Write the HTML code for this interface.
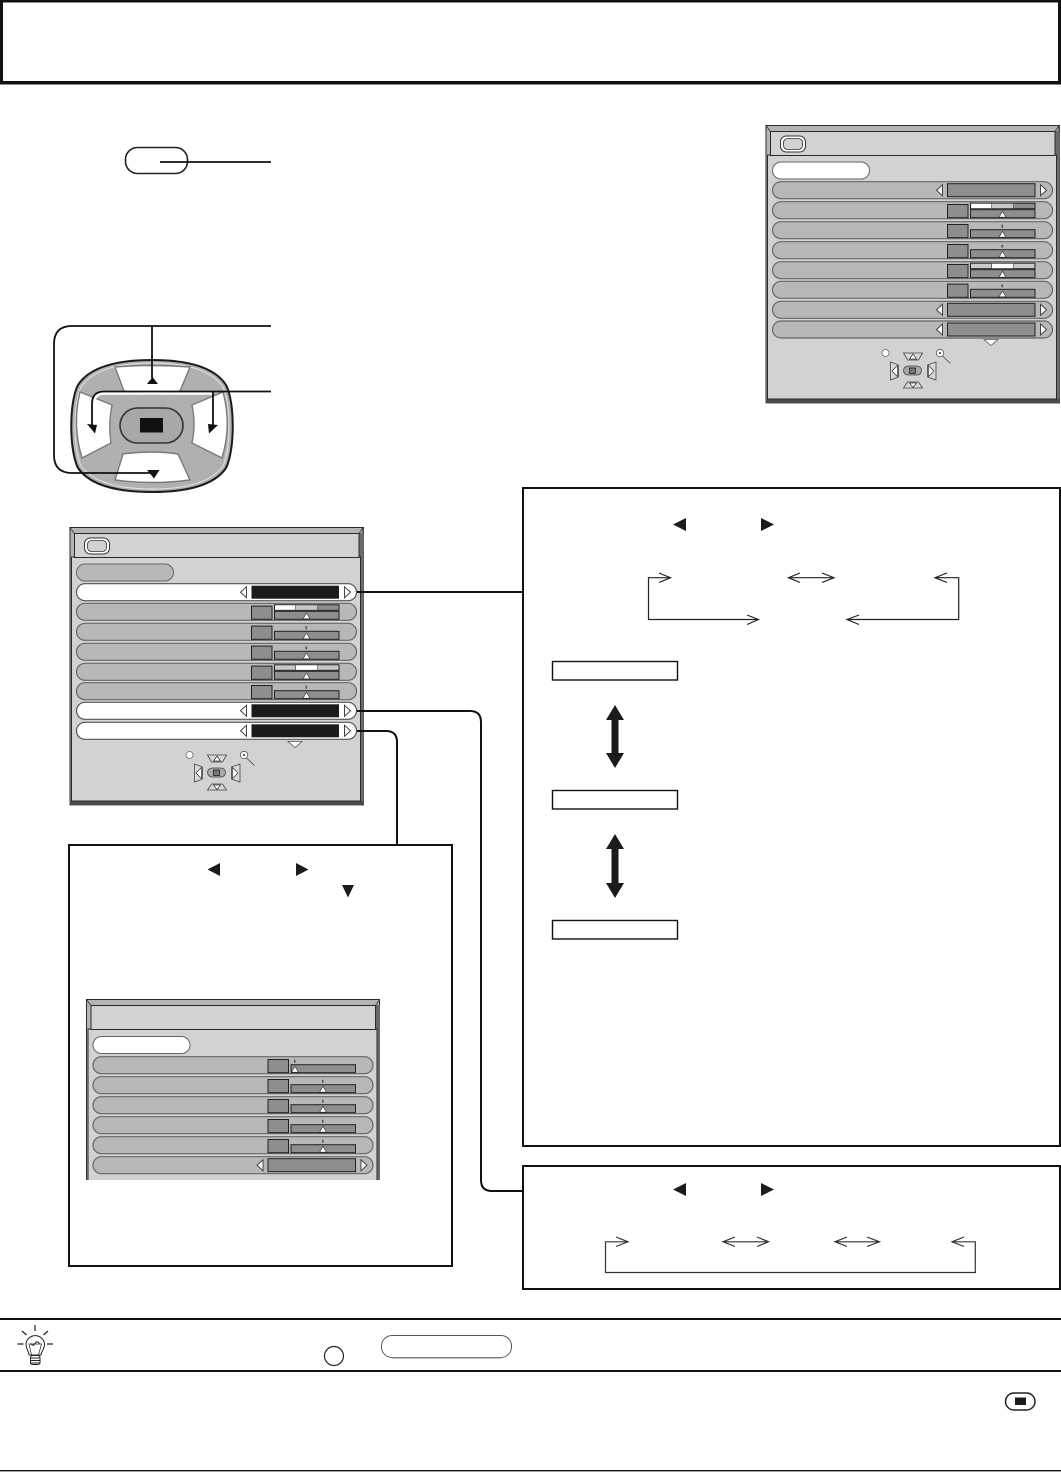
<!DOCTYPE html>
<html>
<head>
<meta charset="utf-8">
<style>
html,body{margin:0;padding:0;background:#fff;}
svg{display:block;}
</style>
</head>
<body>
<svg xmlns="http://www.w3.org/2000/svg" width="1061" height="1472" viewBox="0 0 1061 1472">
<defs>
  <g id="larr"><path d="M-3 0L3 -5.5V5.5Z" fill="#fff" stroke="#444" stroke-width="1"/></g>
  <g id="rarr"><path d="M3 0L-3 -5.5V5.5Z" fill="#fff" stroke="#444" stroke-width="1"/></g>
  <g id="rowbase"><rect x="7" y="0" width="280" height="17" rx="8.5" fill="#b8b8b8" stroke="#666" stroke-width="1.2"/></g>
  <g id="rowA">
    <use href="#rowbase"/>
    <rect x="182" y="2" width="87.5" height="13" fill="#8e8e8e" stroke="#222" stroke-width="1"/>
    <use href="#larr" x="174" y="8.5"/><use href="#rarr" x="278" y="8.5"/>
  </g>
  <g id="rowW">
    <rect x="7" y="0" width="280" height="17" rx="8.5" fill="#fff" stroke="#555" stroke-width="1.2"/>
    <rect x="182" y="2" width="87.5" height="13" fill="#1c1a1b"/>
    <use href="#larr" x="174" y="8.5"/><use href="#rarr" x="278" y="8.5"/>
  </g>
  <g id="tri"><path d="M0 -4.5L3.4 1.5H-3.4Z" fill="#fff" stroke="#333" stroke-width=".6"/></g>
  <g id="rowS">
    <use href="#rowbase"/>
    <rect x="182" y="2.8" width="20.5" height="13.2" fill="#8e8e8e" stroke="#222" stroke-width="1"/>
    <rect x="205" y="8" width="64.5" height="8" fill="#8e8e8e" stroke="#222" stroke-width="1"/>
    <use href="#tri" x="237" y="14"/>
    <rect x="236" y="3" width="1.6" height="3" fill="#555"/>
  </g>
  <g id="rowS0">
    <use href="#rowbase"/>
    <rect x="182" y="2.8" width="20.5" height="13.2" fill="#8e8e8e" stroke="#222" stroke-width="1"/>
    <rect x="205" y="8" width="64.5" height="8" fill="#8e8e8e" stroke="#222" stroke-width="1"/>
    <use href="#tri" x="209" y="14"/>
    <rect x="208" y="3" width="1.6" height="3" fill="#555"/>
  </g>
  <g id="rowT1">
    <use href="#rowbase"/>
    <rect x="182" y="2.8" width="20.5" height="13.2" fill="#8e8e8e" stroke="#222" stroke-width="1"/>
    <rect x="205" y="1.5" width="64.5" height="5.5" fill="#8e8e8e" stroke="#222" stroke-width="1"/>
    <rect x="205.5" y="2" width="20.5" height="4.5" fill="#fff"/>
    <rect x="226.5" y="2" width="21.5" height="4.500" fill="#c8c8c8"/>
    <path d="M226.200 2V6.500M248.200 2V6.500" stroke="#333" stroke-width=".6"/>
    <rect x="205" y="8" width="64.5" height="8" fill="#8e8e8e" stroke="#222" stroke-width="1"/>
    <use href="#tri" x="237" y="14"/>
  </g>
  <g id="rowT2">
    <use href="#rowbase"/>
    <rect x="182" y="2.8" width="20.5" height="13.2" fill="#8e8e8e" stroke="#222" stroke-width="1"/>
    <rect x="205" y="1.5" width="64.5" height="5.5" fill="#c8c8c8" stroke="#222" stroke-width="1"/>
    <rect x="226.5" y="2" width="21.5" height="4.500" fill="#fff"/>
    <path d="M226.200 2V6.500M248.200 2V6.500" stroke="#333" stroke-width=".6"/>
    <rect x="205" y="8" width="64.5" height="8" fill="#8e8e8e" stroke="#222" stroke-width="1"/>
    <use href="#tri" x="237" y="14"/>
  </g>
  <g id="base">
    <rect x="0" y="0" width="294" height="278" fill="#b4b4b4"/>
    <path d="M294 0V278H0" fill="none" stroke="#555" stroke-width="1"/>
    <rect x=".5" y=".5" width="293" height="277" fill="none" stroke="#2a2a2a" stroke-width="1"/>
    <rect x="0" y="274" width="294" height="4" fill="#4a4a4a"/>
    <rect x="290" y="6" width="4" height="268" fill="#6a6a6a"/>
    <rect x="2" y="30" width="289" height="244" fill="#d2d2d2" stroke="#2a2a2a" stroke-width="1"/>
    <rect x="5" y="6.5" width="284.5" height="24" fill="#d2d2d2" stroke="#2a2a2a" stroke-width="1"/>
    <path d="M0 0L5 6.5M294 0L289.5 6.5" stroke="#333" stroke-width=".8"/>
  </g>
  <g id="tvicon">
    <rect x="15" y="11" width="25" height="16" rx="6" fill="#fff" stroke="#333" stroke-width="1"/>
    <rect x="18" y="13.5" width="19" height="11" rx="4" fill="#d2d2d2" stroke="#333" stroke-width=".8"/>
  </g>
  <g id="nav">
    <circle cx="120" cy="228" r="3.500" fill="#fff" stroke="#666" stroke-width=".8"/>
    <path d="M138 228H157L153 235H142Z" fill="#d8d8d8" stroke="#444" stroke-width=".8"/>
    <path d="M147.500 229L151 234H144Z" fill="#fff" stroke="#333" stroke-width=".7"/>
    <path d="M138 263H157L153 257H142Z" fill="#d8d8d8" stroke="#444" stroke-width=".8"/>
    <path d="M147.500 262.500L151 258H144Z" fill="#fff" stroke="#333" stroke-width=".7"/>
    <path d="M125 237L133 240V252L125 255Z" fill="#d8d8d8" stroke="#444" stroke-width=".8"/>
    <path d="M126.500 246L132 240.500V251.500Z" fill="#fff" stroke="#333" stroke-width=".7"/>
    <path d="M170.500 237L162 240V252L170.500 255Z" fill="#d8d8d8" stroke="#444" stroke-width=".8"/>
    <path d="M168.500 246L163 240.500V251.500Z" fill="#fff" stroke="#333" stroke-width=".7"/>
    <rect x="138" y="241" width="18" height="9" rx="4.500" fill="#a8a8a8" stroke="#444" stroke-width=".8"/>
    <rect x="144" y="243" width="6" height="5.500" fill="#777" stroke="#222" stroke-width=".8"/>
    <circle cx="174.500" cy="228" r="3.700" fill="#fff" stroke="#555" stroke-width=".8"/>
    <circle cx="174.500" cy="228" r="1" fill="#333"/>
    <path d="M177 231L185 238.500" stroke="#444" stroke-width=".8"/>
    <path d="M218.500 214.500H232.500L225.500 220.500Z" fill="#fff" stroke="#555" stroke-width=".8"/>
  </g>
  <clipPath id="cut"><rect x="0" y="0" width="294" height="181"/></clipPath>
</defs>

<rect width="1061" height="1472" fill="#fff"/>

<!-- title box -->
<rect x="1.500" y="1" width="1058" height="81.500" fill="#fff" stroke="#111" stroke-width="3"/>
<rect x="0" y="81" width="1061" height="3.500" fill="#111"/>

<!-- menu button -->
<rect x="125.500" y="147.500" width="62" height="26" rx="12" fill="#fff" stroke="#222" stroke-width="1.600"/>
<path d="M160 162H271" stroke="#111" stroke-width="1.800"/>

<!-- top right panel -->
<g transform="translate(765.5,125)">
  <use href="#base"/><use href="#tvicon"/>
  <rect x="7" y="37" width="97" height="17" rx="8.500" fill="#fff" stroke="#666" stroke-width="1"/>
  <use href="#rowA" y="56.700"/><use href="#rowT1" y="76.700"/><use href="#rowS" y="96.700"/><use href="#rowS" y="116.700"/>
  <use href="#rowT2" y="136.700"/><use href="#rowS" y="156.300"/><use href="#rowA" y="176.300"/><use href="#rowA" y="196"/>
  <use href="#nav"/>
</g>

<!-- dpad -->
<path d="M152 360C190 360 215 368 226 385C235 402 235 450 226 468C215 484 190 492 152 492C114 492 89 484 78 468C69 450 69 402 78 385C89 368 114 360 152 360Z" fill="#b0b0b0" stroke="#1c1c1c" stroke-width="2"/>
<path d="M152 363C188 363 212 371 223 387C231 404 231 448 223 466C212 481 188 489 152 489C116 489 92 481 81 466C73 448 73 404 81 387C92 371 116 363 152 363Z" fill="none" stroke="#e4e4e4" stroke-width="1"/>
<path d="M115 367Q152 364 190 367L180 391Q152 396 124 391Z" fill="#fff" stroke="#7a7a7a" stroke-width="1.400"/>
<path d="M123 454Q152 450 178 454L190 480Q152 485 115 480Z" fill="#fff" stroke="#7a7a7a" stroke-width="1.400"/>
<path d="M80 392L112 405Q108 424 111 443L82 458Q72 425 80 392Z" fill="#fff" stroke="#7a7a7a" stroke-width="1.400"/>
<path d="M223 392L192 405Q196 424 192 443L222 458Q232 425 223 392Z" fill="#fff" stroke="#7a7a7a" stroke-width="1.400"/>
<rect x="120" y="408" width="63" height="35" rx="17.500" fill="#a8a8a8" stroke="#333" stroke-width="1.600"/>
<rect x="140" y="418" width="23" height="14.500" fill="#111"/>

<!-- dpad connector lines -->
<path d="M214 393.500H104Q94 393.500 94 404V425" fill="none" stroke="#fff" stroke-width="2.500"/>
<path d="M271 326H72Q54 326 54 344V455Q54 473 72 473H152" fill="none" stroke="#111" stroke-width="1.800"/>
<path d="M152 326V378" stroke="#111" stroke-width="1.800"/>
<path d="M152.500 377L158 384H147Z" fill="#111"/>
<path d="M271 391.500H104Q92 391.500 92 404V425" fill="none" stroke="#111" stroke-width="1.800"/>
<path d="M213 391.500V425" stroke="#111" stroke-width="1.800"/>
<path d="M147 470H159.500L154 478.500Z" fill="#111"/>
<path d="M87 424L97 425L95 433.500Z" fill="#111"/>
<path d="M208 424L218 425L209 433.500Z" fill="#111"/>

<!-- middle panel -->
<g transform="translate(69.5,527)">
  <use href="#base"/><use href="#tvicon"/>
  <rect x="7" y="37" width="97" height="17" rx="8.500" fill="#b8b8b8" stroke="#666" stroke-width="1"/>
  <use href="#rowW" y="56.700"/><use href="#rowT1" y="76.300"/><use href="#rowS" y="96.300"/><use href="#rowS" y="116.300"/>
  <use href="#rowT2" y="136.300"/><use href="#rowS" y="155.700"/><use href="#rowW" y="175.300"/><use href="#rowW" y="195.300"/>
  <use href="#nav"/>
</g>

<!-- connectors -->
<path d="M357 592H522" stroke="#111" stroke-width="2"/>
<path d="M357 711H470Q481 711 481 722V1180Q481 1191 492 1191H522" fill="none" stroke="#111" stroke-width="2"/>
<path d="M357 731H386Q397 731 397 742V844" fill="none" stroke="#111" stroke-width="2"/>

<!-- large right box -->
<rect x="523" y="488" width="537" height="658" fill="none" stroke="#111" stroke-width="2"/>
<path d="M686 518V531L673 524.500Z" fill="#1c1a1b"/>
<path d="M761 518V531L774 524.500Z" fill="#1c1a1b"/>
<g fill="none" stroke="#222" stroke-width="1.200">
  <path d="M670 577.700H648.500V619.500H758"/>
  <path d="M659 573L670.500 577.700L659 582.500"/>
  <path d="M747 615L758.500 619.500L747 624.500"/>
  <path d="M789 577.700H834"/>
  <path d="M800 573L788.500 577.700L800 582.500M822 573L834 577.700L822 582.500"/>
  <path d="M936 577.700H958.700V619.500H847"/>
  <path d="M947 573L935 577.700L947 582.500"/>
  <path d="M859 615L847 619.500L859 624.500"/>
</g>
<g fill="#fff" stroke="#111" stroke-width="1.400">
  <rect x="552.500" y="661.500" width="125" height="18.500"/>
  <rect x="552.500" y="790.500" width="125" height="18.500"/>
  <rect x="552.500" y="920.500" width="125" height="18.500"/>
</g>
<path d="M615 705L624 720H618.500V753H624L615 768L606 753H611.500V720H606Z" fill="#1c1a1b"/>
<path d="M615 834L624 849H618.500V883H624L615 898L606 883H611.500V849H606Z" fill="#1c1a1b"/>

<!-- small right box -->
<rect x="523" y="1166" width="537" height="123" fill="none" stroke="#111" stroke-width="2"/>
<path d="M686 1183V1196L673 1189.500Z" fill="#1c1a1b"/>
<path d="M761 1183V1196L774 1189.500Z" fill="#1c1a1b"/>
<g fill="none" stroke="#333" stroke-width="1.200">
  <path d="M628 1241.800H605.500V1272.500H975.300V1241.800H952"/>
  <path d="M616 1237L628 1241.800L616 1246.500"/>
  <path d="M964 1237L952 1241.800L964 1246.500"/>
  <path d="M723 1241.800H768.500M735 1237L723 1241.800L735 1246.500M757 1237L768.500 1241.800L757 1246.500"/>
  <path d="M835 1241.800H879.500M847 1237L835 1241.800L847 1246.500M867 1237L879.500 1241.800L867 1246.500"/>
</g>

<!-- left box -->
<rect x="69" y="845" width="383" height="421" fill="none" stroke="#111" stroke-width="2"/>
<path d="M220 863V876L207.500 869.500Z" fill="#1c1a1b"/>
<path d="M296 863V876L308.500 869.500Z" fill="#1c1a1b"/>
<path d="M342 885H354L348 897.500Z" fill="#1c1a1b"/>

<!-- third panel (clipped) -->
<g transform="translate(86,999)" clip-path="url(#cut)">
  <use href="#base"/>
  <rect x="7" y="37.500" width="97" height="17" rx="8.500" fill="#fff" stroke="#666" stroke-width="1"/>
  <use href="#rowS0" y="57.700"/><use href="#rowS" y="77.700"/><use href="#rowS" y="97.700"/><use href="#rowS" y="117.700"/><use href="#rowS" y="137.700"/><use href="#rowA" y="157.700"/>
</g>

<!-- bottom bands -->
<rect x="0" y="1318" width="1061" height="2" fill="#111"/>
<rect x="0" y="1370" width="1061" height="2" fill="#111"/>
<rect x="0" y="1470" width="1061" height="1.400" fill="#111"/>

<!-- bulb -->
<g fill="none" stroke="#222" stroke-width="1">
  <path d="M29 1355C29 1351 26 1350 26 1344A9.300 9.300 0 0 1 44.500 1344C44.500 1350 41 1351 41 1355Z" fill="#fff"/>
  <path d="M31.500 1355L29 1344H41.500L38.500 1355" stroke-width=".7"/>
  <path d="M31 1343.500Q33 1347 35 1343.500T39.500 1343.500" stroke-width="1"/>
  <rect x="30.500" y="1355.500" width="9.500" height="9" rx="2" fill="#fff"/>
  <path d="M30 1358H40.500M30 1360.500H40.500M30 1363H40.500" stroke-width="1"/>
  <path d="M35 1325V1331M22 1331L26.500 1335M48 1331L43.500 1335M17.500 1344H23.500M47 1344H53" stroke-width="1.200"/>
</g>
<circle cx="334" cy="1356" r="9.500" fill="#fff" stroke="#222" stroke-width="1.200"/>
<rect x="381.500" y="1335.500" width="130" height="22" rx="10.500" fill="#fff" stroke="#555" stroke-width="1"/>
<path d="M392 1358H501" stroke="#999" stroke-width="1.200"/>

<!-- bottom right button -->
<rect x="1005.500" y="1393" width="29.500" height="17" rx="8.500" fill="#fff" stroke="#222" stroke-width="1.500"/>
<rect x="1015" y="1397.500" width="11" height="7.500" fill="#1c1a1b"/>
</svg>
</body>
</html>
